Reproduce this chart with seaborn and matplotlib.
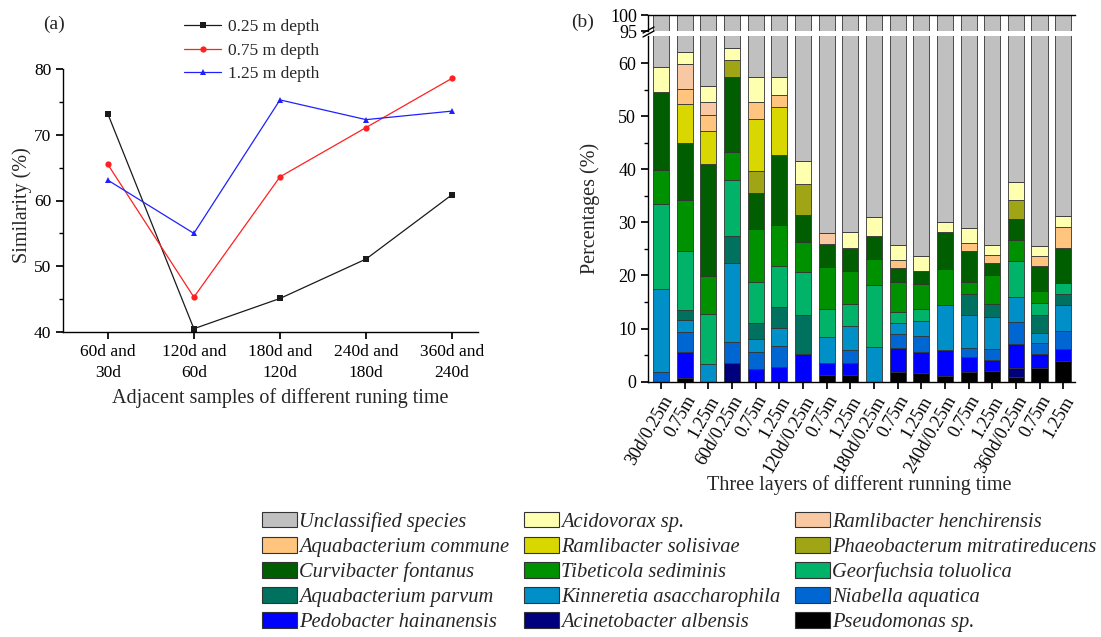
import numpy as np
import pandas as pd
import matplotlib
matplotlib.use("Agg")
import matplotlib.pyplot as plt
import seaborn as sns
from matplotlib.lines import Line2D
from matplotlib.patches import Patch

# ---------------- data: panel (a) ----------------
pairs = ["60d and\n30d", "120d and\n60d", "180d and\n120d", "240d and\n180d", "360d and\n240d"]
depth_labels = ["0.25 m depth", "0.75 m depth", "1.25 m depth"]
sim_025 = [73.2, 40.5, 45.1, 51.1, 60.9]
sim_075 = [65.5, 45.3, 63.6, 71.1, 78.6]
sim_125 = [63.1, 55.0, 75.3, 72.3, 73.6]

# ---------------- data: panel (b) ----------------
samples = ["30d/0.25m", "0.75m", "1.25m", "60d/0.25m", "0.75m", "1.25m",
           "120d/0.25m", "0.75m", "1.25m", "180d/0.25m", "0.75m", "1.25m",
           "240d/0.25m", "0.75m", "1.25m", "360d/0.25m", "0.75m", "1.25m"]

pseudomonas     = [0, 0.75, 0, 0, 0, 0, 0, 1.2, 1.3, 0, 1.9, 1.7, 1.1, 1.8, 2.0, 0.8, 2.6, 3.9]
acinetobacter   = [0, 0, 0, 3.6, 0, 0, 0, 0, 0, 0, 0, 0, 0, 0, 0, 1.8, 0, 0]
pedobacter      = [0, 4.8, 0, 0, 2.3, 2.8, 5.2, 2.4, 2.3, 0, 4.4, 3.9, 4.9, 2.8, 2.0, 4.5, 2.7, 2.3]
niabella        = [1.9, 3.8, 0, 3.9, 3.2, 4.0, 0, 0, 2.4, 0, 2.7, 3.1, 0, 1.8, 2.1, 4.1, 1.9, 3.4]
kinneretia      = [15.5, 2.2, 3.3, 14.9, 2.6, 3.4, 0, 4.8, 4.4, 6.5, 2.0, 2.8, 8.4, 6.2, 6.1, 4.7, 1.9, 4.9]
aqua_parvum     = [0, 1.9, 0, 5.0, 3.0, 3.9, 7.4, 0, 0, 0, 0, 0, 0, 4.0, 2.5, 0, 3.5, 2.1]
georfuchsia     = [16.1, 11.2, 9.5, 10.6, 7.7, 7.6, 8.0, 5.2, 4.2, 11.8, 2.2, 2.1, 0, 0, 0, 6.8, 2.3, 1.9]
tibeticola      = [6.3, 9.6, 7.1, 5.2, 9.9, 7.9, 5.7, 8.0, 6.3, 4.8, 5.5, 4.8, 6.8, 2.2, 5.4, 3.9, 2.2, 0]
curvibacter     = [14.8, 10.7, 21.1, 14.1, 6.9, 13.0, 5.1, 4.3, 4.2, 4.4, 2.8, 2.5, 6.9, 5.8, 2.3, 4.1, 4.7, 6.6]
phaeobacterum   = [0, 0, 0, 3.3, 4.1, 0, 5.8, 0, 0, 0, 0, 0, 0, 0, 0, 3.5, 0, 0]
ram_solisivae   = [0, 7.4, 6.2, 0, 9.8, 9.2, 0, 0, 0, 0, 0, 0, 0, 0, 0, 0, 0, 0]
aqua_commune    = [0, 2.8, 3.0, 0, 3.1, 2.1, 0, 0, 0, 0, 1.4, 0, 0, 1.6, 1.4, 0, 1.9, 4.0]
ram_henchir     = [0, 4.6, 2.4, 0, 0, 0, 0, 2.1, 0, 0, 0, 0, 0, 0, 0, 0, 0, 0]
acidovorax      = [4.6, 2.3, 3.1, 2.2, 4.8, 3.5, 4.4, 0, 3.0, 3.6, 2.9, 2.7, 1.9, 2.8, 2.0, 3.4, 1.9, 2.1]
unclassified    = [40.8, 38.0, 44.3, 37.2, 42.6, 42.6, 58.4, 72.0, 71.9, 68.9, 74.2, 76.4, 70.0, 71.0, 74.2, 62.4, 74.4, 68.8]

# stacking order: bottom -> top
species = ["Pseudomonas sp.", "Acinetobacter albensis", "Pedobacter hainanensis",
           "Niabella aquatica", "Kinneretia asaccharophila", "Aquabacterium parvum",
           "Georfuchsia toluolica", "Tibeticola sediminis", "Curvibacter fontanus",
           "Phaeobacterum mitratireducens", "Ramlibacter solisivae", "Aquabacterium commune",
           "Ramlibacter henchirensis", "Acidovorax sp.", "Unclassified species"]
values = [pseudomonas, acinetobacter, pedobacter, niabella, kinneretia, aqua_parvum,
          georfuchsia, tibeticola, curvibacter, phaeobacterum, ram_solisivae, aqua_commune,
          ram_henchir, acidovorax, unclassified]
colors = ["#000000", "#00007F", "#0000FF", "#0066D2", "#008FC6", "#00705F",
          "#00B368", "#009100", "#005E00", "#9FA514", "#D8D800", "#FFC47E",
          "#F8C8A2", "#FFFFB0", "#C0C0C0"]

# ---------------- style ----------------
sns.set_theme(style="ticks")
plt.rcParams["font.family"] = ["Liberation Serif", "DejaVu Serif"]
plt.rcParams["axes.linewidth"] = 1.0
plt.rcParams["xtick.major.size"] = 5
plt.rcParams["ytick.major.size"] = 5
plt.rcParams["ytick.minor.size"] = 3
plt.rcParams["xtick.color"] = "black"
plt.rcParams["ytick.color"] = "black"
plt.rcParams["axes.edgecolor"] = "black"

W, H = 1101, 637
fig = plt.figure(figsize=(W / 100, H / 100), dpi=100)


def fx(x):
    return x / W


def fy(y):
    return 1 - y / H


def rect(l, t, r, b):
    return [fx(l), fy(b), fx(r) - fx(l), fy(t) - fy(b)]


# ---------------- panel (a) ----------------
axa = fig.add_axes(rect(63, 69, 478, 332))
dfa = pd.DataFrame({
    "x": list(range(5)) * 3,
    "sim": sim_025 + sim_075 + sim_125,
    "depth": [depth_labels[0]] * 5 + [depth_labels[1]] * 5 + [depth_labels[2]] * 5,
})
sns.lineplot(data=dfa, x="x", y="sim", hue="depth", style="depth",
             hue_order=depth_labels, style_order=depth_labels,
             palette=["#1a1a1a", "#FF2020", "#2020FF"],
             markers=["s", "o", "^"], dashes=False, linewidth=0.9,
             markersize=4.5, markeredgewidth=0, legend=False, ax=axa)
axa.set_xlim(-0.52, 4.30)
axa.set_ylim(40, 80)
axa.set_xticks(range(5))
axa.set_xticklabels(pairs, fontsize=12.5, linespacing=1.35)
axa.set_yticks([40, 50, 60, 70, 80])
axa.set_yticks([45, 55, 65, 75], minor=True)
axa.tick_params(axis="y", labelsize=12.5)
axa.tick_params(axis="x", pad=4)
axa.set_xlabel("")
axa.set_ylabel("")
for s in ("top", "right"):
    axa.spines[s].set_visible(False)

leg_a = fig.legend(handles=axa.lines[:3], labels=depth_labels,
                   loc="upper left", bbox_to_anchor=(fx(184), fy(19)),
                   frameon=False, fontsize=12.5, handlelength=2.15,
                   handletextpad=0.4, labelspacing=0.42, borderpad=0,
                   borderaxespad=0)

fig.text(fx(54), fy(24), "(a)", fontsize=14, ha="center", va="center")
fig.text(fx(22), fy(205), "Similarity (%)", fontsize=14.5, rotation=90,
         ha="center", va="center")
fig.text(fx(280), fy(398), "Adjacent samples of different runing time",
         fontsize=14.5, ha="center", va="center")

# ---------------- panel (b) ----------------
axb = fig.add_axes(rect(648, 36, 1075, 381.7))
axt = fig.add_axes(rect(648, 15, 1075, 31), sharex=axb)
xpos = np.arange(len(samples))
for ax in (axb, axt):
    bottom = np.zeros(len(samples))
    for name, vals, col in zip(species, values, colors):
        v = np.array(vals, dtype=float)
        m = v > 0
        ax.bar(xpos[m], v[m], bottom=bottom[m], width=0.68, color=col,
               edgecolor="#333333", linewidth=0.6)
        bottom += v

axb.set_xlim(-0.55, 17.5)
axb.set_ylim(0, 65.1)
axt.set_ylim(95, 100)
axb.set_yticks([0, 10, 20, 30, 40, 50, 60])
axb.set_yticks([5, 15, 25, 35, 45, 55], minor=True)
axt.set_yticks([95, 100])
axb.tick_params(axis="y", labelsize=13)
axt.tick_params(axis="y", labelsize=13, pad=3)
axt.tick_params(axis="x", bottom=False, labelbottom=False)
axb.set_xticks(xpos)
axb.set_xticklabels(samples, rotation=60, ha="right", va="top",
                    rotation_mode="anchor", fontsize=13)
axb.tick_params(axis="x", pad=3)
for s in ("top", "right"):
    axb.spines[s].set_visible(False)
for s in ("bottom", "right"):
    axt.spines[s].set_visible(False)

# break marks on the left spine
for dy in (0, 4):
    fig.add_artist(Line2D([fx(643), fx(654)], [fy(35 - dy + 2), fy(29 - dy + 2)],
                          color="black", linewidth=1.0))

fig.text(fx(583), fy(22), "(b)", fontsize=14, ha="center", va="center")
fig.text(fx(590), fy(208), "Percentages (%)", fontsize=14.5, rotation=90,
         ha="center", va="center")
fig.text(fx(859), fy(485), "Three layers of different running time",
         fontsize=14.5, ha="center", va="center")

# ---------------- legend (b) ----------------
legend_order = [
    "Unclassified species", "Aquabacterium commune", "Curvibacter fontanus",
    "Aquabacterium parvum", "Pedobacter hainanensis",
    "Acidovorax sp.", "Ramlibacter solisivae", "Tibeticola sediminis",
    "Kinneretia asaccharophila", "Acinetobacter albensis",
    "Ramlibacter henchirensis", "Phaeobacterum mitratireducens",
    "Georfuchsia toluolica", "Niabella aquatica", "Pseudomonas sp.",
]
col_of = dict(zip(species, colors))
handles = [Patch(facecolor=col_of[n], edgecolor="#333333", linewidth=0.8)
           for n in legend_order]
fig.legend(handles=handles, labels=legend_order, ncol=3,
           loc="upper left", bbox_to_anchor=(fx(262), fy(512)),
           frameon=False, handlelength=1.7, handleheight=0.78,
           handletextpad=0.12, labelspacing=0.25, columnspacing=0.7,
           borderpad=0, borderaxespad=0,
           prop={"family": "Liberation Serif", "style": "italic", "size": 14.8})

fig.savefig("out.png", dpi=100)
